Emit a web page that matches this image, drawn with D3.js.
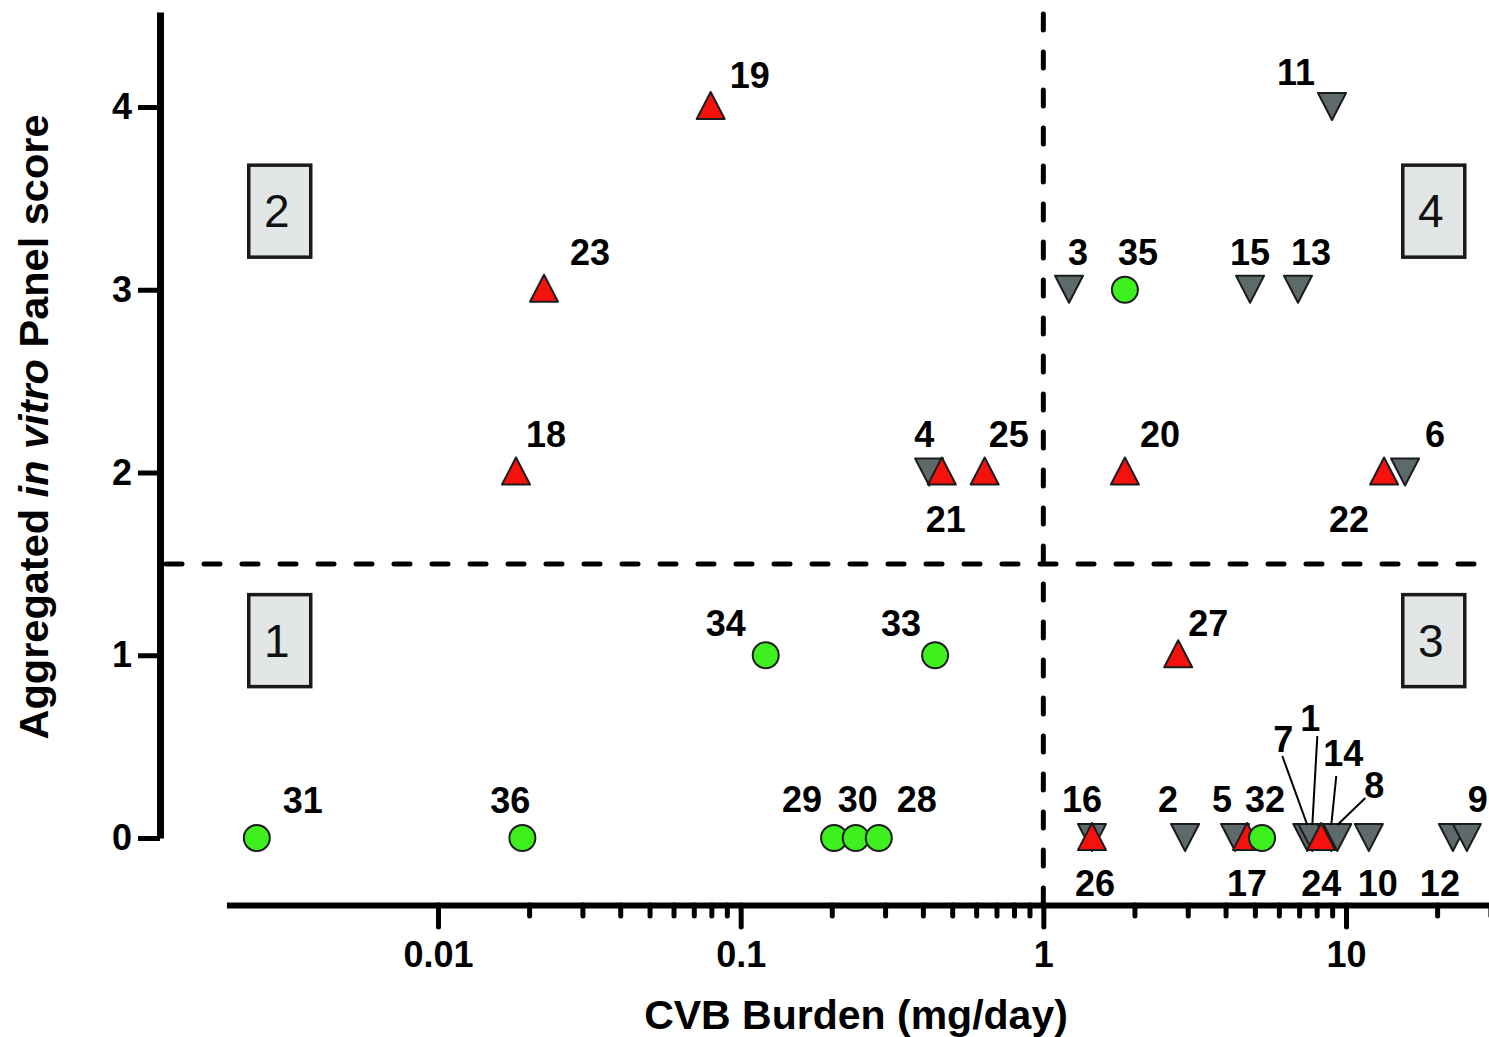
<!DOCTYPE html>
<html>
<head>
<meta charset="utf-8">
<script src="https://cdn.jsdelivr.net/npm/d3@7"></script>
<style>
  html, body { margin: 0; padding: 0; background: #fff; }
  svg { display: block; font-family: "Liberation Sans", Arial, Helvetica, sans-serif; }
</style>
</head>
<body>
<svg id="chart" width="1489" height="1037"></svg>
<script>
// ---------------- DATA ----------------
// Green circles
const circleIds    = ["31", "36", "34", "33", "29", "30", "28", "35", "32"];
const circleBurden = [0.00252, 0.019, 0.121, 0.439, 0.2035, 0.240, 0.286, 1.86, 5.28];
const circleScore  = [0, 0, 1, 1, 0, 0, 0, 3, 0];

// Red up-triangles
const redIds    = ["19", "23", "18", "21", "25", "20", "22", "27", "26", "17", "24"];
const redBurden = [0.0796, 0.0224, 0.0181, 0.462, 0.640, 1.86, 13.36, 2.79, 1.448, 4.71, 8.28];
const redScore  = [4, 3, 2, 2, 2, 2, 2, 1, 0, 0, 0];

// Grey down-triangles
const greyIds    = ["11", "3", "15", "13", "4", "6", "16", "2", "5", "7", "1", "14", "8", "10", "12", "9"];
const greyBurden = [8.99, 1.216, 4.82, 6.94, 0.4195, 15.67, 1.448, 2.94, 4.30, 7.45, 7.74, 8.94, 9.36, 11.9, 22.55, 25.08];
const greyScore  = [4, 3, 3, 3, 2, 2, 0, 0, 0, 0, 0, 0, 0, 0, 0, 0];

// Axis ticks
const xMajorTicks = [0.01, 0.1, 1, 10];
const xTickLabels = ["0.01", "0.1", "1", "10"];
const xMinorTicks = [0.02,0.03,0.04,0.05,0.06,0.07,0.08,0.09,
                     0.2,0.3,0.4,0.5,0.6,0.7,0.8,0.9,
                     2,3,4,5,6,7,8,9,20,30];
const yTicks = [0, 1, 2, 3, 4];

// Thresholds
const xThreshold = 1;
const yThreshold = 1.5;

// Quadrant boxes [label, burden, score]
const quadrantLabels = ["1", "2", "3", "4"];
const quadrantBurden = [0.003, 0.003, 19.5, 19.5];
const quadrantScore  = [1.08, 3.43, 1.08, 3.43];

// Label placement (pixel offsets from point: dx, dy of baseline) — layout only
const labelPlacement = {
  "19":[39,-19], "23":[46,-25], "18":[30,-26], "31":[46,-25], "36":[-12,-25],
  "34":[-40,-19], "33":[-34,-19], "29":[-32,-26], "30":[2,-26], "28":[38,-26],
  "4":[-5,-26], "21":[4,59], "25":[24,-26], "20":[35,-26], "6":[30,-26], "22":[-35,59],
  "3":[9,-25], "35":[13,-25], "15":[0,-25], "13":[13,-25], "11":[-36,-22],
  "27":[30,-19], "16":[-10,-26], "26":[3,58], "2":[-17,-26], "5":[-13,-26],
  "32":[3,-26], "17":[0,58], "24":[0,58], "10":[9,58], "12":[-13,58], "9":[11,-26],
  "7":[-24,-86], "1":[-2,-107], "14":[12,-72], "8":[37,-40]
};
// Leader lines: start offset from point (end is at marker top)
const leaderStart = { "7":[-25,-82], "1":[5,-102], "14":[5,-62], "8":[28,-40] };

// ---------------- CHART ----------------
const svg = d3.select("#chart");

const x = d3.scaleLog().domain([0.01, 10]).range([438, 1346]);
const y = d3.scaleLinear().domain([0, 4]).range([838, 107]);

const xAxisY = 905;
const yAxisX = 160;
const yTop = 4.52;

// --- X axis
const xAxisScale = x.copy().domain([0.002, 30]).range([x(0.002), x(30)]);
const xAxis = svg.append("g")
  .attr("transform", `translate(0,${xAxisY})`)
  .call(d3.axisBottom(xAxisScale)
    .tickValues(xMajorTicks.concat(xMinorTicks))
    .tickSize(23)
    .tickSizeOuter(0)
    .tickPadding(10)
    .tickFormat(d => { const i = xMajorTicks.indexOf(d); return i >= 0 ? xTickLabels[i] : ""; }));
xAxis.select(".domain").attr("stroke", "#000").attr("stroke-width", 6);
xAxis.selectAll(".tick line")
  .attr("stroke", "#000").attr("stroke-width", 5).attr("stroke-linecap", "round")
  .attr("y2", d => xMajorTicks.includes(d) ? 22 : 11);
xAxis.selectAll(".tick text")
  .attr("fill", "#000").attr("font-size", 36).attr("font-weight", "bold")
  .attr("dy", "0.71em").attr("y", 36);

// --- Y axis
const yAxisScale = y.copy().domain([0, yTop]).range([y(0), y(yTop)]);
const yAxis = svg.append("g")
  .attr("transform", `translate(${yAxisX},0)`)
  .call(d3.axisLeft(yAxisScale)
    .tickValues(yTicks)
    .tickSize(22)
    .tickSizeOuter(0)
    .tickPadding(6)
    .tickFormat(d3.format("d")));
yAxis.select(".domain").attr("stroke", "#000").attr("stroke-width", 7);
yAxis.selectAll(".tick line").attr("stroke", "#000").attr("stroke-width", 5);
yAxis.selectAll(".tick text")
  .attr("fill", "#000").attr("font-size", 36).attr("font-weight", "bold");

// --- Axis titles
svg.append("text")
  .attr("x", 856).attr("y", 1029)
  .attr("text-anchor", "middle")
  .attr("font-size", 41).attr("font-weight", "bold")
  .text("CVB Burden (mg/day)");

const yTitle = svg.append("text")
  .attr("transform", `translate(48,427) rotate(-90)`)
  .attr("text-anchor", "middle")
  .attr("font-size", 41.5).attr("font-weight", "bold");
yTitle.append("tspan").text("Aggregated ");
yTitle.append("tspan").attr("font-style", "italic").text("in vitro");
yTitle.append("tspan").text(" Panel score");

// --- Threshold dashed lines
svg.append("line")
  .attr("x1", 166).attr("x2", 1489)
  .attr("y1", y(yThreshold)).attr("y2", y(yThreshold))
  .attr("stroke", "#000").attr("stroke-width", 5)
  .attr("stroke-dasharray", "16 22").attr("stroke-linecap", "round");
svg.append("line")
  .attr("x1", x(xThreshold)).attr("x2", x(xThreshold))
  .attr("y1", y(yTop) + 2).attr("y2", xAxisY)
  .attr("stroke", "#000").attr("stroke-width", 5)
  .attr("stroke-dasharray", "16 22").attr("stroke-linecap", "round");

// --- Quadrant boxes
const boxW = 62, boxH = 92;
quadrantLabels.forEach((lab, i) => {
  const cx = x(quadrantBurden[i]), cy = y(quadrantScore[i]);
  const g = svg.append("g").attr("transform", `translate(${cx},${cy})`);
  g.append("rect")
    .attr("x", -boxW / 2).attr("y", -boxH / 2)
    .attr("width", boxW).attr("height", boxH)
    .attr("fill", "#e2e6e6").attr("stroke", "#1a1a1a").attr("stroke-width", 3.5);
  g.append("text")
    .attr("text-anchor", "middle").attr("x", -3).attr("y", 16)
    .attr("font-size", 46).attr("fill", "#111")
    .text(lab);
});

// --- Markers
const greyData = greyIds.map((id, i) => ({ id, bx: greyBurden[i], sc: greyScore[i], kind: "grey" }));
const redData = redIds.map((id, i) => ({ id, bx: redBurden[i], sc: redScore[i], kind: "red" }));
const circleData = circleIds.map((id, i) => ({ id, bx: circleBurden[i], sc: circleScore[i], kind: "circle" }));

const downTri = "M-14,-14 L14,-14 L0,13 Z";
const upTri = "M0,-15 L14,12 L-14,12 Z";

svg.append("g").selectAll("path").data(greyData).join("path")
  .attr("transform", d => `translate(${x(d.bx)},${y(d.sc)})`)
  .attr("d", downTri)
  .attr("fill", "#5e696b").attr("stroke", "#1c1c1c").attr("stroke-width", 2)
  .attr("stroke-linejoin", "round");

svg.append("g").selectAll("path").data(redData).join("path")
  .attr("transform", d => `translate(${x(d.bx)},${y(d.sc)})`)
  .attr("d", upTri)
  .attr("fill", "#f5120c").attr("stroke", "#1c1c1c").attr("stroke-width", 2)
  .attr("stroke-linejoin", "round");

svg.append("g").selectAll("circle").data(circleData).join("circle")
  .attr("cx", d => x(d.bx)).attr("cy", d => y(d.sc)).attr("r", 13)
  .attr("fill", "#3ef01e").attr("stroke", "#1c1c1c").attr("stroke-width", 2);

// --- Leader lines
const allData = greyData.concat(redData, circleData);
svg.append("g").selectAll("line")
  .data(allData.filter(d => leaderStart[d.id]))
  .join("line")
  .attr("x1", d => x(d.bx) + leaderStart[d.id][0])
  .attr("y1", d => y(d.sc) + leaderStart[d.id][1])
  .attr("x2", d => x(d.bx))
  .attr("y2", d => y(d.sc) - 13)
  .attr("stroke", "#000").attr("stroke-width", 2);

// --- Point labels
svg.append("g").selectAll("text").data(allData).join("text")
  .attr("x", d => x(d.bx) + labelPlacement[d.id][0])
  .attr("y", d => y(d.sc) + labelPlacement[d.id][1])
  .attr("text-anchor", "middle")
  .attr("font-size", 36).attr("font-weight", "bold").attr("fill", "#000")
  .text(d => d.id);
</script>
</body>
</html>
